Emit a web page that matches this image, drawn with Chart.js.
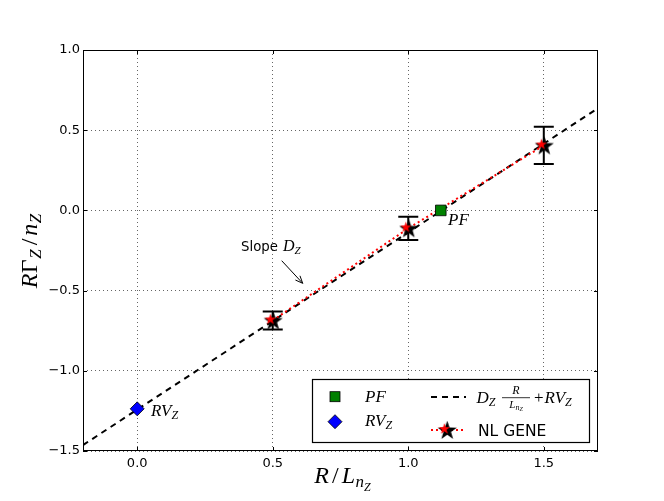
<!DOCTYPE html>
<html><head><meta charset="utf-8">
<script src="https://cdn.jsdelivr.net/npm/chart.js@4"></script>
<style>html,body{margin:0;padding:0;background:#fff;}canvas{display:block}</style>
</head><body>
<canvas id="c" width="664" height="501"></canvas>
<script>
// ---- data ----
const fitX = [-0.2, 1.7];
const fitY = [-1.463, 0.637];
const geneX = [0.5, 1.0, 1.5];
const geneY = [-0.686, -0.112, 0.405];
const geneErr = [0.056, 0.073, 0.116];
const pfX = [1.12];
const pfY = [0.0];
const rvX = [0.0];
const rvY = [-1.237];
const xRange = [-0.2, 1.7];
const yRange = [-1.5, 1.0];
const xTicks = [0.0, 0.5, 1.0, 1.5];
const xTickLabels = ['0.0', '0.5', '1.0', '1.5'];
const yTicks = [-1.5, -1.0, -0.5, 0.0, 0.5, 1.0];
const yTickLabels = ['\u22121.5', '\u22121.0', '\u22120.5', '0.0', '0.5', '1.0'];

const pts = (xs, ys) => xs.map((x, i) => ({x: x, y: ys[i]}));

// ---- star marker image ----
function starPath(g, cx, cy, R, r) {
  g.beginPath();
  for (let i = 0; i < 10; i++) {
    const rad = (i % 2 === 0) ? R : r;
    const a = -Math.PI / 2 + i * Math.PI / 5;
    const x = cx + rad * Math.cos(a), y = cy + rad * Math.sin(a);
    if (i === 0) g.moveTo(x, y); else g.lineTo(x, y);
  }
  g.closePath();
}
const starImg = document.createElement('canvas');
starImg.width = 24; starImg.height = 24;
(function () {
  const g = starImg.getContext('2d');
  starPath(g, 12.5, 12.8, 10, 4.0); g.fillStyle = '#000'; g.fill();
  starPath(g, 9.6, 11.0, 5.8, 2.3); g.fillStyle = '#ff0000'; g.fill();
})();

// ---- text helpers ----
const SERIF = '"Liberation Serif", "DejaVu Serif", serif';
const SANS = '"DejaVu Sans", sans-serif';
function drawParts(ctx, x, y, parts, align) {
  let w = 0;
  parts.forEach(p => { ctx.font = p.f; p.w = ctx.measureText(p.t).width; w += p.w + (p.g || 0); });
  let cx = align === 'center' ? x - w / 2 : x;
  ctx.textAlign = 'left'; ctx.textBaseline = 'alphabetic';
  parts.forEach(p => { ctx.font = p.f; ctx.fillText(p.t, cx, y + (p.dy || 0)); cx += p.w + (p.g || 0); });
  return w;
}
const it = s => 'italic ' + s + 'px ' + SERIF;
const up = s => s + 'px ' + SERIF;

const decor = {
  id: 'decor',
  afterDatasetDraw(chart, args) {
    if (args.index !== 3) return;
    const ctx = chart.ctx, xs = chart.scales.x, ys = chart.scales.y;
    ctx.save();
    ctx.strokeStyle = '#000'; ctx.lineWidth = 2;
    geneX.forEach((x, i) => {
      const px = xs.getPixelForValue(x);
      const t = ys.getPixelForValue(geneY[i] + geneErr[i]);
      const b = ys.getPixelForValue(geneY[i] - geneErr[i]);
      ctx.beginPath();
      ctx.moveTo(px, t); ctx.lineTo(px, b);
      ctx.moveTo(px - 10, t); ctx.lineTo(px + 10, t);
      ctx.moveTo(px - 10, b); ctx.lineTo(px + 10, b);
      ctx.stroke();
    });
    ctx.restore();
  },
  afterDraw(chart) {
    const ctx = chart.ctx, a = chart.chartArea, xs = chart.scales.x, ys = chart.scales.y;
    ctx.save();
    // frame
    ctx.strokeStyle = '#000'; ctx.lineWidth = 1;
    ctx.strokeRect(Math.round(a.left) + 0.5, Math.round(a.top) + 0.5, Math.round(a.right - a.left) - 1, Math.round(a.bottom - a.top) - 1);
    // inward ticks
    ctx.beginPath();
    xTicks.forEach(v => {
      const p = Math.round(xs.getPixelForValue(v)) + 0.5;
      ctx.moveTo(p, a.bottom); ctx.lineTo(p, a.bottom - 4);
      ctx.moveTo(p, a.top); ctx.lineTo(p, a.top + 4);
    });
    yTicks.forEach(v => {
      const p = Math.round(ys.getPixelForValue(v)) + 0.5;
      ctx.moveTo(a.left, p); ctx.lineTo(a.left + 4, p);
      ctx.moveTo(a.right, p); ctx.lineTo(a.right - 4, p);
    });
    ctx.stroke();

    ctx.fillStyle = '#000';
    // x axis title R/L_{n_Z}
    drawParts(ctx, 342.5, 483, [
      {t: 'R', f: it(24), g: 3}, {t: '/', f: up(24), g: 3}, {t: 'L', f: it(24), g: 0.5},
      {t: 'n', f: it(17), dy: 4}, {t: 'Z', f: it(12), dy: 8}
    ], 'center');
    // y axis title
    ctx.save();
    ctx.translate(37, 251);
    ctx.rotate(-Math.PI / 2);
    drawParts(ctx, 0, 0, [
      {t: 'R', f: it(24), g: 0.5}, {t: '\u0393', f: up(24), g: 0.5}, {t: 'Z', f: it(17), dy: 4, g: 4},
      {t: '/', f: up(24), g: 3}, {t: 'n', f: it(24), g: 0.5}, {t: 'Z', f: it(17), dy: 4}
    ], 'center');
    ctx.restore();

    // point labels
    drawParts(ctx, 448, 225, [{t: 'PF', f: it(17)}], 'left');
    drawParts(ctx, 151, 416, [{t: 'RV', f: it(17)}, {t: 'Z', f: it(12), dy: 3}], 'left');

    // slope annotation
    ctx.font = '13.3px ' + SANS;
    ctx.textBaseline = 'alphabetic';
    ctx.fillText('Slope', 241, 251);
    drawParts(ctx, 283, 251, [{t: 'D', f: it(16)}, {t: 'Z', f: it(11), dy: 3}], 'left');
    ctx.beginPath();
    const x0 = 281.7, y0 = 260.7, x1 = 302.7, y1 = 283.3;
    ctx.moveTo(x0, y0); ctx.lineTo(x1, y1);
    const ang = Math.atan2(y1 - y0, x1 - x0);
    ctx.moveTo(x1 - 8 * Math.cos(ang - 0.4), y1 - 8 * Math.sin(ang - 0.4));
    ctx.lineTo(x1, y1);
    ctx.lineTo(x1 - 8 * Math.cos(ang + 0.4), y1 - 8 * Math.sin(ang + 0.4));
    ctx.lineWidth = 1; ctx.stroke();

    // legend
    ctx.fillStyle = '#fff';
    ctx.fillRect(312.5, 379.5, 277, 63);
    ctx.strokeStyle = '#000'; ctx.lineWidth = 1.2;
    ctx.strokeRect(312.5, 379.5, 277, 63);
    // PF marker
    ctx.fillStyle = '#008000'; ctx.lineWidth = 0.8;
    ctx.fillRect(330, 391.7, 10, 10); ctx.strokeRect(330, 391.7, 10, 10);
    // RV marker
    ctx.beginPath();
    ctx.moveTo(335, 414.7); ctx.lineTo(342, 421.7); ctx.lineTo(335, 428.7); ctx.lineTo(328, 421.7); ctx.closePath();
    ctx.fillStyle = '#0000ff'; ctx.fill(); ctx.stroke();
    ctx.fillStyle = '#000';
    drawParts(ctx, 365, 401.7, [{t: 'PF', f: it(17)}], 'left');
    drawParts(ctx, 365, 425.5, [{t: 'RV', f: it(17)}, {t: 'Z', f: it(12), dy: 3}], 'left');
    // dashed sample
    ctx.beginPath(); ctx.setLineDash([6, 5]); ctx.lineWidth = 2;
    ctx.moveTo(431, 397); ctx.lineTo(466, 397); ctx.stroke();
    // formula
    ctx.setLineDash([]);
    drawParts(ctx, 476.5, 403, [{t: 'D', f: it(17)}, {t: 'Z', f: it(12), dy: 3}], 'left');
    drawParts(ctx, 516, 394, [{t: 'R', f: it(12)}], 'center');
    ctx.beginPath(); ctx.lineWidth = 0.8; ctx.moveTo(502, 397.7); ctx.lineTo(530, 397.7); ctx.stroke();
    drawParts(ctx, 516, 407.5, [{t: 'L', f: it(11)}, {t: 'n', f: it(8), dy: 2}, {t: 'Z', f: it(6), dy: 3.5}], 'center');
    drawParts(ctx, 534, 403, [{t: '+', f: up(17), g: 1}, {t: 'RV', f: it(17)}, {t: 'Z', f: it(12), dy: 3}], 'left');
    // NL GENE sample
    ctx.beginPath(); ctx.setLineDash([2, 3]); ctx.lineWidth = 2; ctx.strokeStyle = '#ff0000';
    ctx.moveTo(431, 430); ctx.lineTo(466, 430); ctx.stroke();
    ctx.setLineDash([]);
    ctx.drawImage(starImg, 446.7 - 12, 430 - 12);
    ctx.fillStyle = '#000';
    ctx.font = '15.5px ' + SANS;
    ctx.fillText('NL GENE', 478, 435.7);
    ctx.restore();
  }
};

new Chart(document.getElementById('c'), {
  type: 'scatter',
  data: {
    datasets: [
      {label: 'RV_Z', data: pts(rvX, rvY), pointStyle: 'rectRot', pointRadius: 7,
       backgroundColor: '#0000ff', borderColor: '#000', borderWidth: 0.8, order: 0},
      {label: 'PF', data: pts(pfX, pfY), pointStyle: 'rect', pointRadius: 7.5,
       backgroundColor: '#008000', borderColor: '#000', borderWidth: 0.8, order: 1},
      {label: 'NL GENE', data: pts(geneX, geneY), pointStyle: starImg, pointRadius: 10, order: 2},
      {label: 'NL GENE line', data: pts(geneX, geneY), showLine: true, pointRadius: 0,
       borderColor: '#ff0000', borderDash: [2, 3], borderWidth: 2, fill: false, order: 3},
      {label: 'fit', data: pts(fitX, fitY), showLine: true, pointRadius: 0,
       borderColor: '#000', borderDash: [6, 5], borderWidth: 2, fill: false, order: 4}
    ]
  },
  options: {
    responsive: false, animation: false, devicePixelRatio: 1,
    layout: {padding: {top: 50, right: 66, left: 0, bottom: 0}},
    plugins: {legend: {display: false}, tooltip: {enabled: false}},
    scales: {
      x: {
        type: 'linear', min: xRange[0], max: xRange[1],
        afterBuildTicks: s => { s.ticks = xTicks.map(v => ({value: v})); },
        afterFit: s => { s.height = 50; },
        grid: {color: 'rgba(0,0,0,0.6)', lineWidth: 1, drawTicks: false},
        border: {display: false, dash: [1, 3]},
        ticks: {font: {family: 'DejaVu Sans', size: 13}, color: '#000', padding: 5, maxRotation: 0, autoSkip: false,
                callback: (v, i) => xTickLabels[i]}
      },
      y: {
        type: 'linear', min: yRange[0], max: yRange[1],
        afterBuildTicks: s => { s.ticks = yTicks.map(v => ({value: v})); },
        afterFit: s => { s.width = 83; },
        grid: {color: 'rgba(0,0,0,0.6)', lineWidth: 1, drawTicks: false},
        border: {display: false, dash: [1, 3]},
        ticks: {font: {family: 'DejaVu Sans', size: 13}, color: '#000', padding: 3, autoSkip: false,
                callback: (v, i) => yTickLabels[i]}
      }
    }
  },
  plugins: [decor]
});
</script>
</body></html>
